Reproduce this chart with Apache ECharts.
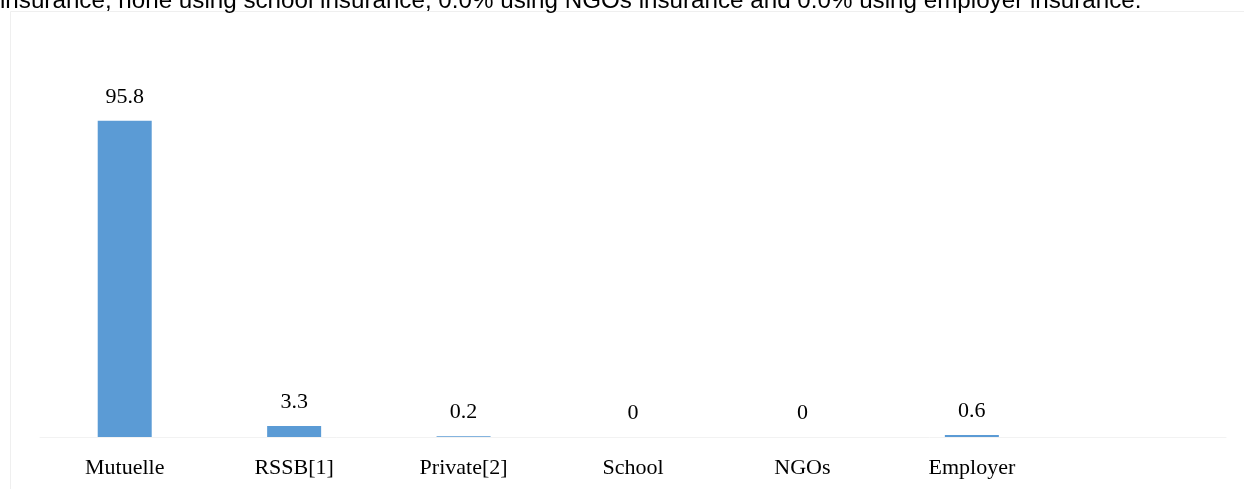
<!DOCTYPE html>
<html>
<head>
<meta charset="utf-8">
<script src="https://cdn.jsdelivr.net/npm/echarts@6/dist/echarts.min.js"></script>
<style>
  html, body { margin: 0; padding: 0; background: #ffffff; }
  #chart { width: 1244px; height: 489px; }
</style>
</head>
<body>
<div id="chart"></div>
<script>
// Health insurance coverage by type (%)
const categories = ['Mutuelle', 'RSSB[1]', 'Private[2]', 'School', 'NGOs', 'Employer', ''];
const shares = [95.8, 3.3, 0.2, 0, 0, 0.6, null];
const introText = 'insurance, none using school insurance, 0.0% using NGOs insurance and 0.0% using employer insurance.';

const chart = echarts.init(document.getElementById('chart'), null, { renderer: 'canvas' });

chart.setOption({
  animation: false,
  backgroundColor: '#ffffff',
  graphic: [
    {
      type: 'rect',
      z: -1,
      shape: { x: 10.5, y: 11.5, width: 1260, height: 520 },
      style: { fill: '#ffffff', stroke: '#efefef', lineWidth: 1 }
    },
    {
      type: 'text',
      x: 0,
      y: 1,
      style: {
        text: introText,
        font: '24.2px "Liberation Sans", Arial, sans-serif',
        verticalAlign: 'middle',
        fill: '#000000'
      }
    }
  ],
  grid: { left: 40, right: 18, top: 107, bottom: 52, containLabel: false },
  xAxis: {
    type: 'category',
    data: categories,
    axisLine: { show: true, lineStyle: { color: '#f2f2f2', width: 1 } },
    axisTick: { show: false },
    axisLabel: {
      margin: 20,
      color: '#000000',
      fontFamily: '"Liberation Serif", serif',
      fontSize: 22,
      interval: 0
    }
  },
  yAxis: {
    type: 'value',
    min: 0,
    max: 100,
    show: false,
    splitLine: { show: false }
  },
  series: [{
    type: 'bar',
    data: shares,
    barWidth: 54,
    itemStyle: { color: '#5b9bd5' },
    label: {
      show: true,
      position: 'top',
      distance: 13,
      color: '#000000',
      fontFamily: '"Liberation Serif", serif',
      fontSize: 22
    }
  }]
});
</script>
</body>
</html>
